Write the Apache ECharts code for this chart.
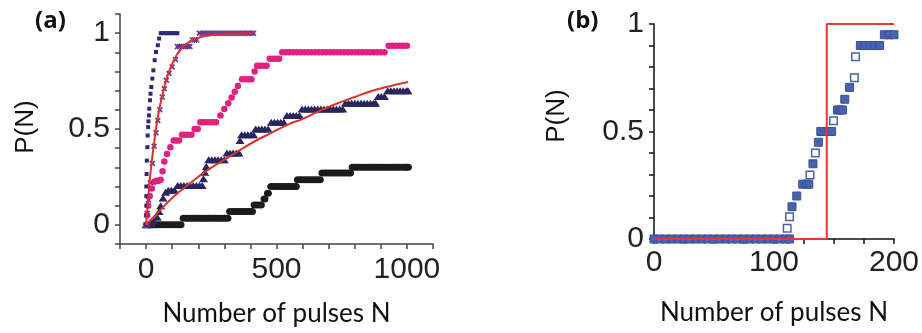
<!DOCTYPE html>
<html><head><meta charset="utf-8">
<script src="https://cdn.jsdelivr.net/npm/echarts@6/dist/echarts.min.js"></script>
<style>html,body{margin:0;padding:0;background:#fff}#c{width:922px;height:333px}</style>
</head><body><div id="c"></div>
<script>
// ---------- Panel (a) data: [N, P(N)] ----------
var navySquares = [[0,0],[1,0.05],[1,0.1],[1,0.15],[1,0.2],[2,0.265],[3,0.335],[5,0.405],[6,0.466],[8,0.51],[9,0.54],[11,0.571],[12,0.606],[15,0.65],[17,0.684],[20,0.719],[24,0.763],[28,0.806],[33,0.859],[38,0.902],[45,0.937],[50,0.972],[56,1],[64,1],[72,1],[80,1],[88,1],[96,1],[104,1],[112,1],[120,1]];
var purpleCross = [[0,0],[4,0.06],[9,0.13],[16,0.22],[24,0.32],[31,0.41],[38,0.48],[45,0.545],[53,0.6],[62,0.667],[70,0.71],[78,0.754],[88,0.79],[100,0.824],[113,0.862],[120,0.93],[128,0.93],[136,0.93],[144,0.93],[152,0.93],[160,0.93],[168,0.93],[178,0.965],[186,0.965],[194,0.965],[204,1],[214,1],[224,1],[234,1],[244,1],[254,1],[264,1],[274,1],[284,1],[294,1],[304,1],[314,1],[324,1],[334,1],[344,1],[354,1],[364,1],[374,1],[384,1],[394,1],[404,1],[412,1]];
var magentaDots = [[0,0],[4,0.05],[8,0.1],[14,0.15],[22,0.19],[32,0.225],[40,0.23],[48,0.23],[56,0.235],[63,0.28],[70,0.33],[80,0.37],[93,0.405],[106,0.44],[116,0.44],[126,0.44],[138,0.47],[150,0.47],[162,0.47],[174,0.47],[186,0.5],[198,0.5],[208,0.535],[220,0.535],[232,0.535],[244,0.535],[256,0.535],[268,0.535],[285,0.57],[300,0.605],[315,0.635],[328,0.665],[340,0.695],[352,0.725],[368,0.76],[380,0.76],[392,0.76],[404,0.76],[416,0.8],[426,0.83],[438,0.83],[450,0.83],[462,0.83],[474,0.866],[486,0.866],[498,0.866],[510,0.866],[522,0.9],[536,0.9],[550,0.9],[564,0.9],[578,0.9],[592,0.9],[606,0.9],[620,0.9],[634,0.9],[648,0.9],[662,0.9],[676,0.9],[690,0.9],[704,0.9],[718,0.9],[732,0.9],[746,0.9],[760,0.9],[774,0.9],[788,0.9],[802,0.9],[816,0.9],[830,0.9],[844,0.9],[858,0.9],[872,0.9],[886,0.9],[900,0.9],[914,0.9],[930,0.935],[944,0.935],[958,0.935],[972,0.935],[986,0.935],[1000,0.935]];
var navyTriangles = [[0,0],[10,0],[20,0.01],[30,0.02],[43,0.04],[50,0.07],[56,0.1],[65,0.14],[75,0.17],[85,0.18],[97,0.18],[109,0.18],[121,0.205],[133,0.205],[145,0.205],[157,0.205],[169,0.205],[181,0.205],[193,0.205],[205,0.205],[215,0.205],[220,0.24],[225,0.275],[231,0.305],[240,0.34],[252,0.34],[264,0.34],[276,0.34],[288,0.34],[300,0.34],[310,0.375],[322,0.375],[334,0.375],[346,0.375],[356,0.375],[360,0.44],[366,0.47],[378,0.47],[390,0.47],[402,0.47],[412,0.47],[420,0.5],[432,0.5],[444,0.5],[456,0.5],[468,0.5],[480,0.535],[492,0.535],[504,0.535],[516,0.535],[528,0.535],[540,0.57],[552,0.57],[564,0.57],[576,0.57],[588,0.57],[598,0.605],[610,0.605],[622,0.605],[634,0.605],[646,0.605],[658,0.605],[670,0.605],[682,0.605],[694,0.605],[706,0.605],[718,0.605],[730,0.605],[742,0.605],[754,0.605],[764,0.635],[776,0.635],[788,0.635],[800,0.635],[812,0.635],[824,0.635],[836,0.635],[848,0.635],[860,0.635],[872,0.635],[880,0.635],[890,0.67],[902,0.67],[914,0.67],[926,0.7],[938,0.7],[950,0.7],[962,0.7],[974,0.7],[986,0.7],[998,0.7],[1004,0.7]];
var blackDots = [[12,0],[24,0],[36,0],[48,0],[60,0],[72,0],[84,0],[96,0],[108,0],[120,0],[132,0],[144,0.035],[156,0.035],[168,0.035],[180,0.035],[192,0.035],[204,0.035],[216,0.035],[228,0.035],[240,0.035],[252,0.035],[264,0.035],[276,0.035],[288,0.035],[300,0.035],[312,0.035],[322,0.07],[334,0.07],[346,0.07],[358,0.07],[370,0.07],[382,0.07],[394,0.07],[406,0.07],[416,0.103],[428,0.103],[440,0.103],[454,0.135],[467,0.165],[480,0.2],[492,0.2],[504,0.2],[516,0.2],[528,0.2],[540,0.2],[552,0.2],[564,0.2],[574,0.2],[582,0.235],[594,0.235],[606,0.235],[618,0.235],[630,0.235],[642,0.235],[654,0.235],[666,0.235],[676,0.27],[688,0.27],[700,0.27],[712,0.27],[724,0.27],[736,0.27],[748,0.27],[760,0.27],[772,0.27],[782,0.27],[792,0.3],[804,0.3],[816,0.3],[828,0.3],[840,0.3],[852,0.3],[864,0.3],[876,0.3],[888,0.3],[900,0.3],[912,0.3],[924,0.3],[936,0.3],[948,0.3],[960,0.3],[972,0.3],[984,0.3],[996,0.3],[1004,0.3]];
var fitFast = [[0,0],[10,0.17],[20,0.31],[30,0.42],[40,0.52],[50,0.6],[60,0.66],[70,0.72],[85,0.79],[100,0.84],[115,0.88],[135,0.92],[155,0.945],[180,0.965],[210,0.98],[250,0.99],[300,0.997],[410,1]];
var fitSlow = [[0,0],[50,0.07],[100,0.14],[165,0.213],[230,0.28],[294,0.335],[360,0.39],[422,0.44],[473,0.475],[550,0.527],[601,0.553],[665,0.595],[730,0.632],[800,0.667],[858,0.696],[930,0.722],[1005,0.745]];
var ticksA_X = [0, 500, 1000];
var ticksA_Y = [0, 0.5, 1];

// ---------- Panel (b) data ----------
var bFilled = [[0,0],[5,0],[10,0],[15,0],[20,0],[25,0],[30,0],[35,0],[40,0],[45,0],[50,0],[55,0],[60,0],[65,0],[70,0],[75,0],[80,0],[85,0],[90,0],[95,0],[100,0],[105,0],[110,0],[113,0],[115,0.15],[119,0.2],[124,0.255],[127,0.255],[129,0.255],[132.5,0.35],[137,0.45],[139,0.5],[142,0.5],[145,0.5],[148,0.5],[153,0.6],[155,0.6],[157,0.6],[159,0.65],[163,0.705],[172,0.9],[176,0.9],[180,0.9],[184,0.9],[188,0.9],[192,0.95],[196,0.95],[200,0.95]];
var bOpen = [[111,0.05],[113,0.104],[130,0.298],[134.5,0.4],[149.6,0.55],[167,0.75],[168,0.848]];
var bStepX = [0, 144, 144, 200];
var bStepY = [0, 0, 1, 1];
var ticksB_X = [0, 100, 200];
var ticksB_Y = [0, 0.5, 1];

function pick(list){
  return function(v){
    for (var i=0;i<list.length;i++){ if (Math.abs(v-list[i])<1e-6) return String(list[i]); }
    return '';
  };
}
var labelFont = 'Liberation Sans';
var titleFont = 'Lato';
function axisCommon(color){
  return {
    axisLine:{show:true,onZero:false,lineStyle:{color:color,width:1.5}},
    axisTick:{show:true,inside:false,length:5,lineStyle:{color:color,width:1.5}},
    splitLine:{show:false}
  };
}
var xa = Object.assign(axisCommon('#444'),{gridIndex:0,type:'value',min:-100,max:1100,interval:100,
  axisLabel:{formatter:pick(ticksA_X),fontFamily:labelFont,fontSize:30,color:'#222',margin:11},
  name:'Number of pulses N',nameLocation:'middle',nameGap:57,nameTextStyle:{fontFamily:titleFont,fontSize:26,color:'#111'}});
var ya = Object.assign(axisCommon('#444'),{gridIndex:0,type:'value',min:-0.1,max:1.1,interval:0.1,
  axisLabel:{formatter:pick(ticksA_Y),fontFamily:labelFont,fontSize:30,color:'#222',margin:10}});
var xb = Object.assign(axisCommon('#111'),{gridIndex:1,type:'value',min:0,max:200,interval:25,
  axisLabel:{formatter:pick(ticksB_X),fontFamily:labelFont,fontSize:30,color:'#222',margin:9},
  name:'Number of pulses N',nameLocation:'middle',nameGap:61,nameTextStyle:{fontFamily:titleFont,fontSize:26,color:'#111'}});
var yb = Object.assign(axisCommon('#111'),{gridIndex:1,type:'value',min:0,max:1,interval:0.1,
  axisLabel:{formatter:pick(ticksB_Y),fontFamily:labelFont,fontSize:30,color:'#222',margin:10}});

var crossPath = 'path://M0,2L2,0L5,3L8,0L10,2L7,5L10,8L8,10L5,7L2,10L0,8L3,5Z';
function scat(x,y,data,sym,size,color,extra){
  var s = {type:'scatter',xAxisIndex:x,yAxisIndex:y,data:data,symbol:sym,symbolSize:size,clip:false,
    itemStyle:{color:color,opacity:1},silent:true};
  if (extra) Object.assign(s.itemStyle, extra);
  return s;
}
var chart = echarts.init(document.getElementById('c'),null,{renderer:'canvas'});
chart.setOption({
  animation:false,
  backgroundColor:'#fff',
  grid:[{left:120,top:14,width:313,height:230},{left:654,top:24,width:242,height:215}],
  xAxis:[xa,xb],
  yAxis:[ya,yb],
  graphic:[
    {type:'text',left:35,top:9,style:{text:'(a)',font:'bold 24px "Open Sans"',fill:'#111'}},
    {type:'text',left:567,top:9,style:{text:'(b)',font:'bold 24px "Open Sans"',fill:'#111'}},
    {type:'text',x:26,y:127,rotation:Math.PI/2,style:{text:'P(N)',font:'26px "Liberation Sans"',fill:'#111',textAlign:'center',textVerticalAlign:'middle'}},
    {type:'text',x:557,y:116,rotation:Math.PI/2,style:{text:'P(N)',font:'26px "Liberation Sans"',fill:'#111',textAlign:'center',textVerticalAlign:'middle'}}
  ],
  series:[
    scat(0,0,blackDots,'circle',[8,7],'#1b1b1b'),
    scat(0,0,navyTriangles,'triangle',[9,7],'#28265f'),
    scat(0,0,magentaDots,'circle',6.5,'#e2207f'),
    scat(0,0,purpleCross,crossPath,6,'#6e3596'),
    scat(0,0,navySquares,'rect',4,'#2c2a74'),
    {type:'line',xAxisIndex:0,yAxisIndex:0,data:fitFast,smooth:0.4,showSymbol:false,symbol:'none',lineStyle:{color:'#d9342b',width:2}},
    {type:'line',xAxisIndex:0,yAxisIndex:0,data:fitSlow,smooth:0.4,showSymbol:false,symbol:'none',lineStyle:{color:'#d9342b',width:2}},
    scat(1,1,bFilled,'rect',8,'#4862ad',{borderColor:'#3a519c',borderWidth:1}),
    scat(1,1,bOpen,'rect',7.5,'#ffffff',{borderColor:'#4862ad',borderWidth:1.5}),
    {type:'line',xAxisIndex:1,yAxisIndex:1,data:bStepX.map(function(x,i){return [x,bStepY[i]];}),showSymbol:false,symbol:'none',lineStyle:{color:'#e5392f',width:2}}
  ]
});
</script></body></html>
